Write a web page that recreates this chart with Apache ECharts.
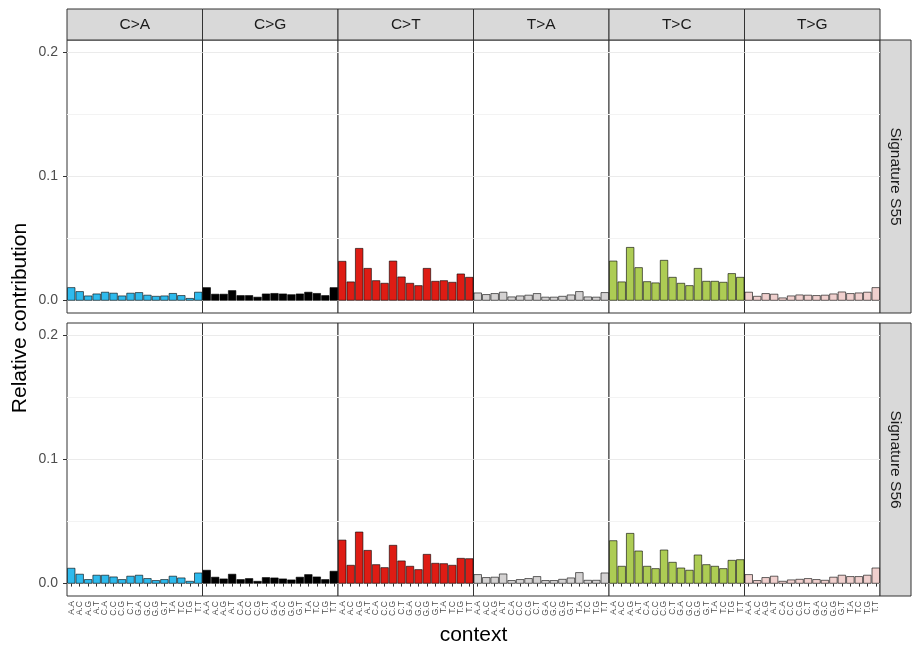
<!DOCTYPE html>
<html>
<head>
<meta charset="utf-8">
<script src="https://cdn.jsdelivr.net/npm/echarts@6/dist/echarts.min.js"></script>
<style>
  html, body { margin: 0; padding: 0; background: #fff; }
  #chart { width: 916px; height: 656px; }
</style>
</head>
<body>
<div id="chart"></div>
<script>
// Trinucleotide contexts (5' base . 3' base) shown under every facet
const contexts = ['A.A','A.C','A.G','A.T','C.A','C.C','C.G','C.T',
                  'G.A','G.C','G.G','G.T','T.A','T.C','T.G','T.T'];
const substitutions = ['C>A','C>G','C>T','T>A','T>C','T>G'];
const signatures = ['Signature S55','Signature S56'];
const substitutionColors = ['#2EBAED','#000000','#DE1C14','#D4D2D2','#ADCC54','#F0D0CE'];
const yTickValues = [0, 0.1, 0.2];
const yMinorGridValues = [0.05, 0.15];

// Relative contribution per context, one line per substitution type
const s55 = [
  0.0107,0.0075,0.0040,0.0056,0.0070,0.0062,0.0040,0.0062,0.0067,0.0046,0.0037,0.0040,0.0060,0.0043,0.0020,0.0070,
  0.0107,0.0054,0.0054,0.0083,0.0043,0.0043,0.0030,0.0056,0.0060,0.0056,0.0050,0.0056,0.0070,0.0060,0.0043,0.0107,
  0.0319,0.0153,0.0423,0.0262,0.0163,0.0142,0.0321,0.0193,0.0142,0.0123,0.0262,0.0158,0.0163,0.0150,0.0217,0.0190,
  0.0064,0.0051,0.0059,0.0070,0.0032,0.0040,0.0046,0.0059,0.0030,0.0030,0.0037,0.0048,0.0075,0.0032,0.0030,0.0067,
  0.0321,0.0153,0.0431,0.0268,0.0155,0.0145,0.0327,0.0190,0.0142,0.0123,0.0262,0.0158,0.0158,0.0150,0.0220,0.0190,
  0.0070,0.0037,0.0059,0.0054,0.0024,0.0040,0.0048,0.0046,0.0043,0.0046,0.0056,0.0072,0.0059,0.0064,0.0070,0.0107
];
const s56 = [
  0.0126,0.0078,0.0035,0.0070,0.0070,0.0056,0.0035,0.0062,0.0070,0.0043,0.0027,0.0035,0.0062,0.0048,0.0021,0.0088,
  0.0110,0.0054,0.0040,0.0078,0.0035,0.0043,0.0021,0.0051,0.0048,0.0040,0.0032,0.0054,0.0075,0.0056,0.0035,0.0102,
  0.0353,0.0150,0.0418,0.0270,0.0155,0.0131,0.0311,0.0185,0.0142,0.0115,0.0238,0.0166,0.0163,0.0150,0.0206,0.0203,
  0.0075,0.0051,0.0054,0.0080,0.0027,0.0035,0.0043,0.0059,0.0027,0.0027,0.0037,0.0048,0.0091,0.0029,0.0029,0.0088,
  0.0348,0.0142,0.0407,0.0265,0.0142,0.0123,0.0273,0.0174,0.0128,0.0110,0.0233,0.0155,0.0142,0.0123,0.0190,0.0195,
  0.0075,0.0027,0.0051,0.0062,0.0021,0.0032,0.0037,0.0043,0.0035,0.0029,0.0054,0.0070,0.0059,0.0059,0.0070,0.0128
];
const signatureValues = [s55, s56];

// Facet layout
const FONT = '"Liberation Sans", Arial, sans-serif';
const panelLeft = 67, panelW = 135.5;
const rowTops = [40, 323], panelH = 273;
const stripTop = 9, stripH = 31;
const rightStripW = 31;

const grids = [], xAxes = [], yAxes = [], series = [], graphics = [];

signatures.forEach((sig, r) => {
  substitutions.forEach((sub, c) => {
    const idx = r * substitutions.length + c;
    const isBottom = r === signatures.length - 1;
    const isLeft = c === 0;
    grids.push({
      left: panelLeft + c * panelW, top: rowTops[r],
      width: panelW, height: panelH,
      show: true, borderColor: '#333333', borderWidth: 1, backgroundColor: '#ffffff'
    });
    xAxes.push({
      type: 'category', gridIndex: idx, data: contexts,
      boundaryGap: true,
      axisLine: { show: false },
      axisTick: { show: isBottom, alignWithLabel: true, length: 3, lineStyle: { color: '#333333' } },
      axisLabel: {
        show: isBottom, interval: 0, rotate: 90, fontSize: 8.5, margin: 5,
        color: '#4D4D4D', fontFamily: FONT
      },
      splitLine: { show: false }
    });
    yAxes.push({
      type: 'value', gridIndex: idx, min: -0.01, max: 0.21,
      axisLine: { show: false },
      axisTick: { show: isLeft, customValues: yTickValues, length: 4, lineStyle: { color: '#333333' } },
      axisLabel: {
        show: isLeft, customValues: yTickValues, fontSize: 14, margin: 9,
        color: '#4D4D4D', fontFamily: FONT,
        formatter: v => v.toFixed(1)
      },
      splitLine: { show: true, lineStyle: { color: '#EBEBEB', width: 1 } }
    });
    series.push({
      type: 'bar', xAxisIndex: idx, yAxisIndex: idx,
      data: signatureValues[r].slice(c * contexts.length, (c + 1) * contexts.length),
      barCategoryGap: '4%',
      itemStyle: { color: substitutionColors[c], borderColor: '#000000', borderWidth: 0.6 },
      // fainter minor grid lines between the labelled breaks
      markLine: {
        silent: true, symbol: 'none', animation: false,
        label: { show: false },
        lineStyle: { color: '#F3F3F3', type: 'solid', width: 1 },
        data: yMinorGridValues.map(v => ({ yAxis: v }))
      },
      silent: true, animation: false
    });
  });

  // right-hand facet strip
  graphics.push({
    type: 'rect',
    shape: { x: panelLeft + substitutions.length * panelW, y: rowTops[r], width: rightStripW, height: panelH },
    style: { fill: '#D9D9D9', stroke: '#333333', lineWidth: 1 }
  });
  graphics.push({
    type: 'text',
    x: panelLeft + substitutions.length * panelW + rightStripW / 2,
    y: rowTops[r] + panelH / 2,
    rotation: -Math.PI / 2,
    style: { text: sig, fill: '#1A1A1A', font: '15.5px ' + FONT, align: 'center', verticalAlign: 'middle' }
  });
});

// top facet strips
substitutions.forEach((sub, c) => {
  graphics.push({
    type: 'rect',
    shape: { x: panelLeft + c * panelW, y: stripTop, width: panelW, height: stripH },
    style: { fill: '#D9D9D9', stroke: '#333333', lineWidth: 1 }
  });
  graphics.push({
    type: 'text',
    x: panelLeft + c * panelW + panelW / 2, y: stripTop + stripH / 2,
    style: { text: sub, fill: '#1A1A1A', font: '15.5px ' + FONT, align: 'center', verticalAlign: 'middle' }
  });
});

// axis titles
graphics.push({
  type: 'text', x: 20, y: (rowTops[0] + rowTops[1] + panelH) / 2,
  rotation: Math.PI / 2,
  style: { text: 'Relative contribution', fill: '#000000', font: '21px ' + FONT, align: 'center', verticalAlign: 'middle' }
});
graphics.push({
  type: 'text', x: panelLeft + substitutions.length * panelW / 2, y: 635,
  style: { text: 'context', fill: '#000000', font: '21px ' + FONT, align: 'center', verticalAlign: 'middle' }
});

const chart = echarts.init(document.getElementById('chart'), null, { renderer: 'canvas' });
chart.setOption({
  animation: false,
  backgroundColor: '#ffffff',
  grid: grids,
  xAxis: xAxes,
  yAxis: yAxes,
  series: series,
  graphic: { elements: graphics }
});
</script>
</body>
</html>
